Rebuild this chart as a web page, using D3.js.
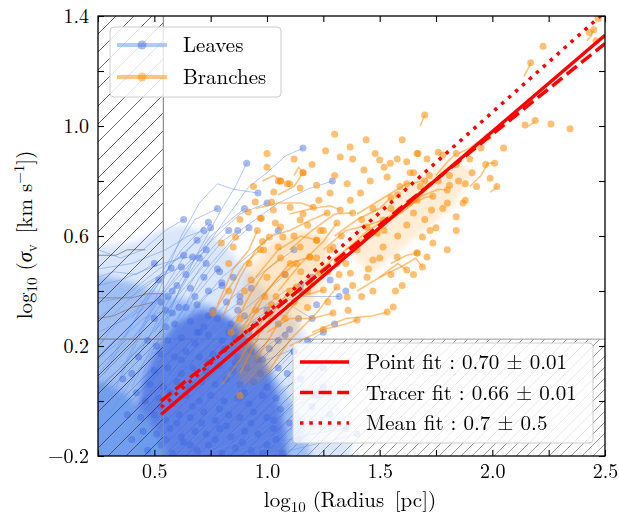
<!DOCTYPE html>
<html>
<head>
<meta charset="utf-8">
<script src="https://cdn.jsdelivr.net/npm/d3@7"></script>
<style>
  body { margin: 0; background: #fff; }
  text { font-family: "Latin Modern Roman", "CMU Serif", "Liberation Serif", "Times New Roman", "Tinos", "DejaVu Serif", "FreeSerif", "Noto Serif", Georgia, serif; }
</style>
</head>
<body>
<div id="graph"></div>
<script>
// ---- data ----
const xLimit = 0.54;   // size resolution limit (hatched, left)
const yLimit = 0.225;  // velocity resolution limit (hatched, bottom)

const xTicks = [0.25, 0.5, 0.75, 1.0, 1.25, 1.5, 1.75, 2.0, 2.25, 2.5];
const xLabels = [0.5, 1.0, 1.5, 2.0, 2.5];
const yTicks = [-0.2, 0.0, 0.2, 0.4, 0.6, 0.8, 1.0, 1.2, 1.4];
const yLabels = [-0.2, 0.2, 0.6, 1.0, 1.4];

// outlines of where leaf tracks pile up into a solid colour
const leafHaze = [[0.2,-0.3],[0.2,0.56],[0.32,0.57],[0.42,0.58],[0.52,0.62],[0.62,0.64],[0.72,0.62],[0.82,0.56],
  [0.92,0.47],[1.02,0.38],[1.12,0.3],[1.22,0.18],[1.3,0.04],[1.36,-0.1],[1.4,-0.3]];
const leafMid = [[0.2,-0.3],[0.2,0.46],[0.3,0.45],[0.4,0.43],[0.5,0.4],[0.62,0.37],[0.75,0.35],[0.88,0.27],
  [0.98,0.16],[1.08,0.04],[1.16,-0.08],[1.22,-0.3]];
const leafCore = [[0.43,-0.3],[0.42,-0.05],[0.45,0.08],[0.51,0.19],[0.59,0.28],[0.7,0.33],[0.8,0.32],[0.9,0.26],
  [0.98,0.16],[1.04,0.04],[1.08,-0.1],[1.1,-0.3]];
const leafBase = [[0.2,-0.3],[0.2,0.08],[0.3,0.06],[0.38,0.02],[0.45,-0.04],[0.5,-0.1],[0.54,-0.16],[0.57,-0.3]];

// outlines of where branch tracks pile up
const branchCore = [[0.88,0.06],[0.86,0.3],[0.92,0.48],[1.02,0.58],[1.16,0.62],[1.28,0.6],[1.26,0.46],
  [1.18,0.32],[1.08,0.18],[0.97,0.07]];
const branchBand = [[1.34,0.56],[1.48,0.72],[1.66,0.81],[1.84,0.88],[1.92,0.83],[1.82,0.7],[1.64,0.58],[1.46,0.46]];

// leaf tracks, dot drawn at the last point
const leafTracks = [
  [[0.40,0.05],[0.55,0.30],[0.68,0.52],[0.80,0.70],[0.86,0.78],[0.91,0.865]],
  [[0.45,0.10],[0.62,0.42],[0.78,0.62],[0.92,0.78],[1.00,0.83],[1.08,0.89],[1.16,0.92]],
  [[0.50,0.12],[0.70,0.45],[0.88,0.62],[1.05,0.72],[1.18,0.77],[1.29,0.80]],
  [[0.35,0.10],[0.52,0.40],[0.62,0.60],[0.70,0.72],[0.78,0.79],[0.85,0.77],[0.96,0.756]],
  [[0.42,0.15],[0.60,0.42],[0.75,0.60],[0.90,0.70]],
  [[0.30,0.15],[0.48,0.38],[0.62,0.55],[0.74,0.65]],
  [[0.33,0.05],[0.50,0.35],[0.65,0.55],[0.75,0.63]],
  [[0.28,0.10],[0.45,0.35],[0.58,0.50],[0.69,0.585]],
  [[0.25,0.30],[0.40,0.40],[0.52,0.48],[0.63,0.53]],
  [[0.25,0.42],[0.35,0.44],[0.50,0.49],[0.62,0.52],[0.67,0.524]],
  [[0.40,0.22],[0.55,0.40],[0.66,0.50],[0.73,0.55]],
  [[0.45,0.20],[0.60,0.38],[0.73,0.50]],
  [[0.25,0.36],[0.40,0.38],[0.52,0.45],[0.62,0.487]],
  [[0.30,0.30],[0.45,0.42],[0.575,0.484]],
  [[0.50,0.25],[0.65,0.45],[0.76,0.56],[0.83,0.62]],
  [[0.55,0.28],[0.70,0.48],[0.80,0.58],[0.87,0.62]],
  [[0.60,0.30],[0.75,0.48],[0.85,0.58],[0.92,0.63]],
  [[0.55,0.20],[0.68,0.38],[0.78,0.48]],
  [[0.25,0.48],[0.40,0.50],[0.55,0.55],[0.65,0.60],[0.72,0.62]],
  [[0.25,0.25],[0.38,0.30],[0.50,0.36],[0.60,0.42]],
  [[0.60,0.05],[0.80,0.20],[0.95,0.32],[1.08,0.40],[1.20,0.45]],
  [[0.65,-0.05],[0.85,0.10],[1.00,0.20],[1.10,0.26]],
  [[0.70,-0.10],[0.90,0.02],[1.05,0.12],[1.12,0.18]],
  [[0.75,-0.18],[0.95,-0.05],[1.08,0.05],[1.15,0.08]],
  [[0.80,-0.20],[1.00,-0.10],[1.12,-0.02],[1.22,0.02]],
  [[0.70,0.10],[0.90,0.25],[1.05,0.35],[1.15,0.40]],
  [[0.85,-0.20],[1.05,-0.12],[1.18,-0.08],[1.28,-0.05]],
  [[0.65,0.15],[0.85,0.30],[1.00,0.40],[1.08,0.46]],
  [[0.75,0.20],[0.95,0.33],[1.15,0.38],[1.32,0.38]],
  [[0.90,-0.20],[1.05,-0.15],[1.20,-0.12],[1.35,-0.10]],
  [[0.25,0.55],[0.35,0.52],[0.45,0.55],[0.55,0.62],[0.63,0.66]],
  [[0.45,0.05],[0.60,0.25],[0.72,0.38],[0.80,0.42]],
  [[0.50,0.00],[0.65,0.18],[0.78,0.30],[0.88,0.36]],
  [[0.25,0.15],[0.35,0.22],[0.45,0.30],[0.55,0.33]],
  [[0.25,0.05],[0.35,0.12],[0.48,0.24],[0.58,0.32]],
  [[0.25,0.20],[0.33,0.28],[0.42,0.33],[0.52,0.44]],
  [[0.25,0.45],[0.32,0.47],[0.42,0.46],[0.50,0.50]],
  [[0.25,0.10],[0.34,0.18],[0.44,0.26],[0.56,0.38]],
  [[0.30,-0.05],[0.42,0.10],[0.52,0.22],[0.64,0.34]],
  [[0.35,-0.15],[0.48,0.00],[0.58,0.12],[0.70,0.25]],
  [[0.55,-0.20],[0.70,-0.08],[0.85,0.05],[0.98,0.15]],
  [[0.60,-0.20],[0.78,-0.05],[0.92,0.08],[1.05,0.22]],
  [[0.95,-0.20],[1.10,-0.18],[1.25,-0.15],[1.40,-0.12]],
  [[0.70,-0.20],[0.90,-0.14],[1.05,-0.05],[1.18,0.05],[1.25,0.12]],
  [[0.40,0.30],[0.50,0.42],[0.60,0.56],[0.68,0.66],[0.78,0.70]],
  [[0.50,0.35],[0.62,0.48],[0.75,0.58],[0.88,0.68],[1.00,0.72]],
  [[0.65,0.30],[0.80,0.45],[0.95,0.55],[1.05,0.62]],
  [[0.70,0.25],[0.85,0.38],[1.00,0.48],[1.12,0.55]],
  [[0.80,0.20],[0.95,0.30],[1.08,0.36],[1.20,0.30]],
  [[0.85,0.10],[1.00,0.15],[1.15,0.20],[1.25,0.25]]
];

// leaf end points whose tracks are lost in the dense region
const leafDots = [
  [0.47,-0.18],[0.53,-0.16],[0.58,-0.19],[0.63,-0.15],[0.69,-0.18],[0.74,-0.16],[0.80,-0.19],[0.86,-0.17],[0.93,-0.18],[1.00,-0.16],[1.07,-0.19],
  [0.45,-0.11],[0.51,-0.12],[0.57,-0.10],[0.62,-0.13],[0.68,-0.11],[0.73,-0.12],[0.79,-0.10],[0.84,-0.13],[0.90,-0.11],[0.96,-0.12],[1.03,-0.10],
  [0.44,-0.06],[0.50,-0.05],[0.55,-0.07],[0.61,-0.05],[0.66,-0.06],[0.72,-0.04],[0.77,-0.07],[0.83,-0.05],[0.88,-0.06],[0.94,-0.04],[1.00,-0.06],[1.06,-0.03],
  [0.46,0.00],[0.52,0.01],[0.58,-0.01],[0.64,0.02],[0.70,0.00],[0.75,0.02],[0.81,0.00],[0.87,0.01],[0.92,-0.01],[0.98,0.02],[1.04,0.01],
  [0.48,0.06],[0.54,0.05],[0.60,0.07],[0.65,0.05],[0.71,0.07],[0.77,0.06],[0.82,0.08],[0.88,0.06],[0.94,0.07],[1.00,0.05],
  [0.50,0.11],[0.56,0.12],[0.62,0.10],[0.67,0.12],[0.73,0.11],[0.79,0.13],[0.85,0.11],[0.91,0.12],[0.97,0.10],
  [0.53,0.17],[0.59,0.16],[0.64,0.18],[0.70,0.16],[0.76,0.17],[0.81,0.19],[0.87,0.16],[0.93,0.18],
  [0.56,0.22],[0.62,0.23],[0.68,0.21],[0.74,0.24],[0.80,0.22],[0.86,0.23],[0.92,0.25],
  [0.59,0.28],[0.66,0.29],[0.72,0.27],[0.78,0.30],[0.84,0.28],[0.90,0.31],
  [0.61,0.34],[0.69,0.35],[0.76,0.33],[0.82,0.36],[0.88,0.38],
  [0.58,0.40],[0.66,0.41],[0.74,0.40],[0.80,0.43],
  [0.64,0.46],[0.72,0.45],[0.79,0.47],
  [1.09,0.10],[1.12,0.18],[1.08,0.24],[1.14,0.30],[1.18,0.22],[1.22,0.35],[1.15,0.42],[1.10,-0.08],
  [1.14,-0.14],[1.20,-0.02],[1.25,0.05],[1.30,0.28],[1.35,0.40],[1.28,0.44],
  [0.40,-0.14],[0.42,0.03],[0.40,0.10],[0.43,0.16],[0.38,-0.05],[0.36,0.08],[0.47,0.22],[0.50,0.30],[0.53,0.36],
  [0.98,-0.19],[1.04,-0.14],[0.55,-0.14],[0.66,-0.16],[0.77,-0.14],[0.89,-0.15],[0.60,-0.08],[0.71,-0.08],
  [0.82,-0.09],[0.93,-0.08],[0.53,-0.02],[0.67,-0.02],[0.79,-0.03],[0.90,0.03],[0.57,0.03],[0.62,0.15],
  [0.74,0.14],[0.86,0.14],[0.96,0.15],[0.69,0.25],[0.83,0.25],[0.74,0.31],[0.87,0.33],[0.95,0.28],
  [1.01,0.19],[1.05,0.12],[1.03,-0.07],[0.51,0.20],[0.55,0.27],[0.68,0.38],[0.85,0.45],[0.93,0.41],
  [0.70,0.52],[1.00,0.33],[1.05,0.28]
];

// grey tracks crossing the size-limited region
const greyTracks = [
  [[0.25,0.53],[0.33,0.53],[0.38,0.55],[0.46,0.55]],
  [[0.25,0.375],[0.40,0.375],[0.47,0.39],[0.54,0.39]],
  [[0.25,0.225],[0.54,0.225]],
  [[0.25,0.30],[0.32,0.31],[0.40,0.34],[0.50,0.36]]
];

// branch tracks, dot drawn at the last point
const branchTracks = [
  [[0.85,0.20],[0.95,0.35],[1.05,0.45],[1.13,0.50]],
  [[0.80,0.30],[0.88,0.45],[0.95,0.55],[1.01,0.596]],
  [[0.90,0.25],[1.00,0.40],[1.10,0.50],[1.19,0.524]],
  [[0.95,0.15],[1.05,0.28],[1.15,0.38],[1.25,0.404]],
  [[1.00,0.10],[1.10,0.22],[1.22,0.32],[1.31,0.415]],
  [[0.88,0.10],[0.97,0.25],[1.05,0.35],[1.10,0.40]],
  [[0.78,0.35],[0.85,0.48],[0.92,0.55],[0.957,0.62]],
  [[0.95,0.45],[1.05,0.55],[1.15,0.60],[1.22,0.585]],
  [[1.05,0.40],[1.15,0.50],[1.25,0.58],[1.31,0.647]],
  [[1.10,0.55],[1.20,0.62],[1.30,0.68],[1.38,0.684]],
  [[1.20,0.45],[1.30,0.52],[1.40,0.58],[1.49,0.61]],
  [[1.25,0.55],[1.35,0.62],[1.45,0.64],[1.515,0.658]],
  [[1.35,0.55],[1.45,0.62],[1.55,0.67],[1.59,0.695]],
  [[1.45,0.60],[1.55,0.66],[1.62,0.70],[1.666,0.73]],
  [[1.50,0.65],[1.60,0.70],[1.70,0.74],[1.736,0.745]],
  [[1.60,0.70],[1.70,0.75],[1.76,0.77],[1.80,0.767]],
  [[1.65,0.72],[1.72,0.78],[1.78,0.83],[1.84,0.86]],
  [[1.90,0.78],[1.95,0.82],[1.98,0.865],[2.01,0.865]],
  [[1.10,0.68],[1.20,0.70],[1.28,0.71],[1.325,0.695]],
  [[0.95,0.70],[1.05,0.72],[1.15,0.72],[1.205,0.705]],
  [[1.02,0.60],[1.10,0.62],[1.20,0.66],[1.267,0.684]],
  [[1.05,0.75],[1.12,0.78],[1.16,0.83]],
  [[1.00,0.25],[1.10,0.30],[1.20,0.30],[1.293,0.32]],
  [[1.10,0.20],[1.25,0.26],[1.35,0.28],[1.40,0.295]],
  [[1.20,0.25],[1.35,0.30],[1.47,0.31],[1.533,0.324]],
  [[1.40,0.40],[1.50,0.45],[1.58,0.50],[1.62,0.476]],
  [[1.50,0.45],[1.60,0.49],[1.66,0.52],[1.69,0.487]],
  [[1.55,0.50],[1.62,0.53],[1.666,0.538]],
  [[1.75,0.82],[1.80,0.87],[1.84,0.90]],
  [[1.85,0.90],[1.90,0.92],[1.95,0.95],[1.98,0.96]],
  [[0.80,0.06],[0.88,0.15],[0.95,0.25],[1.02,0.35]],
  [[0.84,0.25],[0.92,0.38],[0.99,0.47],[1.06,0.52]],
  [[0.76,0.32],[0.84,0.42],[0.90,0.50],[0.97,0.55]],
  [[1.30,0.60],[1.40,0.66],[1.50,0.70],[1.55,0.74]],
  [[1.40,0.68],[1.52,0.74],[1.62,0.79],[1.70,0.80]],
  [[2.14,1.18],[2.16,1.21],[2.17,1.23]],
  [[1.99,0.76],[2.01,0.77],[2.02,0.78]],
  [[2.42,1.31],[2.44,1.33],[2.45,1.35]],
  [[2.16,1.00],[2.18,1.01],[2.19,1.02]],
  [[1.68,1.00],[1.69,1.02],[1.70,1.04]],
  [[0.98,0.80],[1.03,0.82],[1.06,0.80]],
  [[1.12,0.82],[1.14,0.85],[1.16,0.83]]
];

// branch end points without visible tracks
const branchDots = [
  [1.369,0.924],[1.325,0.887],[1.38,0.88],[1.48,0.90],[1.50,0.876],[1.547,0.865],[1.578,0.88],[1.62,0.87],
  [1.666,0.90],[1.71,0.88],[1.76,0.905],[1.78,0.895],[1.10,0.79],[1.06,0.80],[1.03,0.76],[1.147,0.775],
  [1.22,0.785],[1.28,0.756],[1.356,0.79],[1.415,0.756],[1.458,0.80],[1.533,0.815],[1.59,0.78],[1.635,0.83],
  [1.37,0.73],[1.103,0.705],[1.028,0.695],[0.97,0.665],[1.06,0.633],[1.147,0.658],[1.236,0.62],[1.444,0.633],
  [1.724,0.62],[1.69,0.596],[1.666,0.538],[1.578,0.524],[1.515,0.56],[1.47,0.513],[1.444,0.45],[1.356,0.378],
  [1.37,0.465],[1.31,0.50],[1.293,0.56],[1.22,0.585],[1.19,0.524],[1.147,0.56],[1.07,0.596],[0.985,0.549],
  [1.103,0.50],[1.236,0.465],[1.19,0.429],[1.13,0.415],[1.56,0.342],[1.71,0.524],[1.736,0.575],
  [1.05,0.80],[1.09,0.79],[1.02,0.724],[0.948,0.724],[0.917,0.687],[0.975,0.665],[1.037,0.647],[0.86,0.596],
  [0.85,0.56],[0.797,0.575],[0.76,0.32],[0.84,0.25],[0.88,0.02],
  [2.225,1.29],[2.43,1.34],[2.46,1.31],[2.47,1.39],[2.145,1.004],[2.26,1.007],[2.345,0.99],
  [1.97,0.86],[1.91,0.83],[1.99,0.81],[1.81,0.82],[1.81,0.785],[1.88,0.79],[1.88,0.73],[1.84,0.67],
  [1.73,0.695],[1.65,0.684],[1.67,0.90],[1.65,0.83],[1.62,0.79],[1.87,0.72],[1.42,0.38],[1.47,0.40],
  [1.58,0.60],[1.62,0.64],[1.78,0.70],[1.55,0.46],[1.60,0.42],[1.27,0.36],[1.18,0.34],[1.08,0.30],
  [0.99,0.38],[0.93,0.44],[0.88,0.30],[0.83,0.40],
  [0.90,0.40],[0.95,0.33],[1.00,0.45],[1.04,0.38],[1.08,0.46],[1.12,0.36],[1.15,0.47],[1.18,0.40],
  [0.92,0.50],[0.98,0.58],[1.05,0.56],[1.12,0.60],[1.18,0.64],[1.25,0.62],[1.28,0.55],[1.33,0.60],
  [1.35,0.50],[1.40,0.55],[1.42,0.66],[1.47,0.70],[1.52,0.62],[1.55,0.70],[1.58,0.75],[1.63,0.72],
  [1.68,0.78],[1.72,0.82],[1.76,0.80],[1.70,0.66],[1.75,0.63],[1.80,0.72],[1.85,0.80],[1.90,0.88],
  [1.93,0.78],[1.45,0.48],[1.50,0.52],[1.38,0.42],[1.32,0.46],[1.27,0.47],[1.22,0.52],[1.16,0.68],
  [1.23,0.73],[1.30,0.82],[1.43,0.84],[1.52,0.85],[1.26,0.91],[1.20,0.86],[1.00,0.85],[0.94,0.78],
  [0.88,0.66],[0.83,0.50],[1.25,0.26],[1.36,0.33],[1.57,0.40],[1.65,0.46],[1.80,0.55],[1.84,0.62],
  [2.05,0.92],[1.95,0.92],[1.60,0.95],[1.44,0.95],[1.30,0.97],[1.12,0.88],[1.00,0.90]
];

// power-law fits: y = slope * x + intercept
const fitNames = ["Point fit", "Tracer fit", "Mean fit"];
const fitSlopes = [0.70, 0.66, 0.73];
const fitIntercepts = [-0.42, -0.35, -0.41];
const fitStart = 0.53;
const fitLabels = ["0.70 \u00b1 0.01", "0.66 \u00b1 0.01", "0.7 \u00b1 0.5"];
const fitDash = [null, "13,5.6", "3.5,5.8"];

// ---- layout ----
var margin = {top: 16, right: 14, bottom: 63, left: 98},
    width = 619 - margin.left - margin.right,
    height = 519 - margin.top - margin.bottom;

const root = d3.select("#graph")
  .append("svg")
    .attr("width", width + margin.left + margin.right)
    .attr("height", height + margin.top + margin.bottom);

root.append("rect").attr("width", 619).attr("height", 519).attr("fill", "#fff");

const svg = root.append("g")
    .attr("transform", "translate(" + margin.left + "," + margin.top + ")");

var x = d3.scaleLinear().domain([0.25, 2.5]).range([0, width]);
var y = d3.scaleLinear().domain([-0.2, 1.4]).range([height, 0]);

const defs = root.append("defs");
defs.append("clipPath").attr("id", "plotclip")
  .append("rect").attr("width", width).attr("height", height);
defs.append("filter").attr("id", "soft")
  .attr("x", "-20%").attr("y", "-20%").attr("width", "140%").attr("height", "140%")
  .append("feGaussianBlur").attr("stdDeviation", 3);

function hatch(id, size, colour, w) {
  const p = defs.append("pattern").attr("id", id)
    .attr("patternUnits", "userSpaceOnUse")
    .attr("width", size).attr("height", size);
  p.append("path")
    .attr("d", "M0," + size + " L" + size + ",0 M-2,2 L2,-2 M" + (size - 2) + "," + (size + 2) + " L" + (size + 2) + "," + (size - 2))
    .attr("stroke", colour).attr("stroke-width", w);
}
hatch("hatchLeft", 18, "#3a3a3a", 0.9);
hatch("hatchBottom", 11, "#6a6a6a", 0.7);

const plot = svg.append("g").attr("clip-path", "url(#plotclip)");

// velocity-limited band, under the data
plot.append("rect")
  .attr("x", 0).attr("y", y(yLimit))
  .attr("width", width).attr("height", y(-0.2) - y(yLimit))
  .attr("fill", "url(#hatchBottom)");
plot.append("line")
  .attr("x1", 0).attr("x2", width).attr("y1", y(yLimit)).attr("y2", y(yLimit))
  .attr("stroke", "#999").attr("stroke-width", 1);

var line = d3.line().x(d => x(d[0])).y(d => y(d[1]));
var poly = d3.line().x(d => x(d[0])).y(d => y(d[1])).curve(d3.curveLinearClosed);

const dense = plot.append("g").attr("filter", "url(#soft)");
dense.append("path").attr("d", poly(leafHaze)).attr("fill", "#6495ed").attr("opacity", 0.24);
dense.append("path").attr("d", poly(leafMid)).attr("fill", "#6495ed").attr("opacity", 0.5);
dense.append("path").attr("d", poly(leafCore)).attr("fill", "#4169e1").attr("opacity", 0.72);
dense.append("path").attr("d", poly(leafBase)).attr("fill", "#6f9cec").attr("opacity", 0.95);

plot.selectAll(".leafTrack")
  .data(leafTracks)
  .enter()
  .append("path")
    .attr("class", "leafTrack")
    .attr("d", line)
    .attr("fill", "none")
    .attr("stroke", "#6495ed")
    .attr("stroke-opacity", 0.5)
    .attr("stroke-width", 1);

plot.selectAll(".greyTrack")
  .data(greyTracks)
  .enter()
  .append("path")
    .attr("d", line)
    .attr("fill", "none")
    .attr("stroke", "#8c8c8c")
    .attr("stroke-width", 1);

plot.selectAll(".leafDot")
  .data(leafDots.concat(leafTracks.map(t => t[t.length - 1])))
  .enter()
  .append("circle")
    .attr("cx", d => x(d[0]))
    .attr("cy", d => y(d[1]))
    .attr("r", 3.5)
    .attr("fill", "#4169e1")
    .attr("fill-opacity", 0.45);

const bdense = plot.append("g").attr("filter", "url(#soft)");
bdense.append("path").attr("d", poly(branchCore)).attr("fill", "#ff8c00").attr("opacity", 0.22);
bdense.append("path").attr("d", poly(branchBand)).attr("fill", "#ff8c00").attr("opacity", 0.16);

plot.selectAll(".branchTrack")
  .data(branchTracks)
  .enter()
  .append("path")
    .attr("d", line)
    .attr("fill", "none")
    .attr("stroke", "#ff8c00")
    .attr("stroke-opacity", 0.5)
    .attr("stroke-width", 1.6);

plot.selectAll(".branchDot")
  .data(branchDots.concat(branchTracks.map(t => t[t.length - 1])))
  .enter()
  .append("circle")
    .attr("cx", d => x(d[0]))
    .attr("cy", d => y(d[1]))
    .attr("r", 3.5)
    .attr("fill", "#ff8c00")
    .attr("fill-opacity", 0.55);

// size-limited band, hatched on top
plot.append("rect")
  .attr("x", 0).attr("y", 0)
  .attr("width", x(xLimit)).attr("height", height)
  .attr("fill", "url(#hatchLeft)").attr("opacity", 0.85);
plot.append("line")
  .attr("x1", x(xLimit)).attr("x2", x(xLimit)).attr("y1", 0).attr("y2", height)
  .attr("stroke", "#8c8c8c").attr("stroke-width", 1.2);

// fits
fitNames.forEach(function(name, i) {
  plot.append("path")
    .attr("d", line([[fitStart, fitSlopes[i] * fitStart + fitIntercepts[i]], [2.5, fitSlopes[i] * 2.5 + fitIntercepts[i]]]))
    .attr("stroke", "#ff0000")
    .attr("stroke-width", 3.5)
    .attr("fill", "none")
    .attr("stroke-dasharray", fitDash[i]);
});

// axes, ticks inward on all four sides
const fmt = d3.format(".1f");
function labelX(d) { return xLabels.some(v => Math.abs(v - d) < 1e-6) ? fmt(d) : ""; }
function labelY(d) { return yLabels.some(v => Math.abs(v - d) < 1e-6) ? fmt(d) : ""; }

svg.append("g")
  .attr("transform", "translate(0," + height + ")")
  .call(d3.axisBottom(x).tickValues(xTicks).tickFormat(labelX).tickSizeInner(-6).tickSizeOuter(0).tickPadding(8));
svg.append("g")
  .call(d3.axisTop(x).tickValues(xTicks).tickFormat("").tickSizeInner(-6).tickSizeOuter(0));
svg.append("g")
  .call(d3.axisLeft(y).tickValues(yTicks).tickFormat(labelY).tickSizeInner(-6).tickSizeOuter(0).tickPadding(9));
svg.append("g")
  .attr("transform", "translate(" + width + ",0)")
  .call(d3.axisRight(y).tickValues(yTicks).tickFormat("").tickSizeInner(-6).tickSizeOuter(0));

svg.selectAll(".domain").remove();
svg.selectAll(".tick line").attr("stroke", "#000").attr("stroke-width", 1.1);
svg.selectAll(".tick text")
  .attr("fill", "#000")
  .style("font-size", "20px");

svg.append("rect")
  .attr("width", width).attr("height", height)
  .attr("fill", "none").attr("stroke", "#000").attr("stroke-width", 1.3);

// axis labels
function richText(sel, parts) {
  parts.forEach(function(p) {
    const t = sel.append("tspan").text(p[0]);
    if (p[1] === "sub") t.attr("dy", 5).style("font-size", "15px");
    if (p[1] === "sup") t.attr("dy", -8).style("font-size", "15px");
    if (p[1] === "back") t.attr("dy", -5);
    if (p[1] === "down") t.attr("dy", 8);
    if (p[1] === "ital") t.style("font-style", "italic");
  });
}

const xl = root.append("text")
  .attr("x", 350).attr("y", 507)
  .attr("text-anchor", "middle")
  .style("font-size", "21px");
richText(xl, [["log"], ["10", "sub"], [" (Radius\u2002[pc])", "back"]]);

const yl = root.append("text")
  .attr("transform", "translate(32,235) rotate(-90)")
  .attr("text-anchor", "middle")
  .style("font-size", "21px");
richText(yl, [["log"], ["10", "sub"], [" (", "back"], ["\u03c3", "ital"], ["v", "sub"], ["\u2002[km s", "back"], ["\u22121", "sup"], ["])", "down"]]);

// legend: leaves / branches
const lg1 = root.append("g").attr("transform", "translate(110,27)");
lg1.append("rect").attr("width", 171).attr("height", 70).attr("rx", 4)
  .attr("fill", "#fff").attr("fill-opacity", 0.8).attr("stroke", "#cccccc").attr("stroke-width", 1);
const lgItems = [["Leaves", "#6495ed", "#4169e1"], ["Branches", "#ff8c00", "#ff8c00"]];
lgItems.forEach(function(it, i) {
  const cy = 18 + i * 32;
  lg1.append("line").attr("x1", 7).attr("x2", 57).attr("y1", cy).attr("y2", cy)
    .attr("stroke", it[1]).attr("stroke-opacity", 0.5).attr("stroke-width", 4);
  lg1.append("circle").attr("cx", 32).attr("cy", cy).attr("r", 4.5)
    .attr("fill", it[2]).attr("fill-opacity", 0.45);
  lg1.append("text").attr("x", 73).attr("y", cy + 7).text(it[0]).style("font-size", "21px");
});

// legend: fits
const lg2 = root.append("g").attr("transform", "translate(293,343)");
lg2.append("rect").attr("width", 300).attr("height", 100).attr("rx", 4)
  .attr("fill", "#fff").attr("fill-opacity", 0.8).attr("stroke", "#cccccc").attr("stroke-width", 1);
fitNames.forEach(function(name, i) {
  const cy = 19 + i * 30.5;
  lg2.append("line").attr("x1", 7).attr("x2", 56).attr("y1", cy).attr("y2", cy)
    .attr("stroke", "#ff0000").attr("stroke-width", 3.5).attr("stroke-dasharray", fitDash[i]);
  lg2.append("text").attr("x", 73).attr("y", cy + 7)
    .text(name + " : " + fitLabels[i]).style("font-size", "21px");
});
</script>
</body>
</html>
